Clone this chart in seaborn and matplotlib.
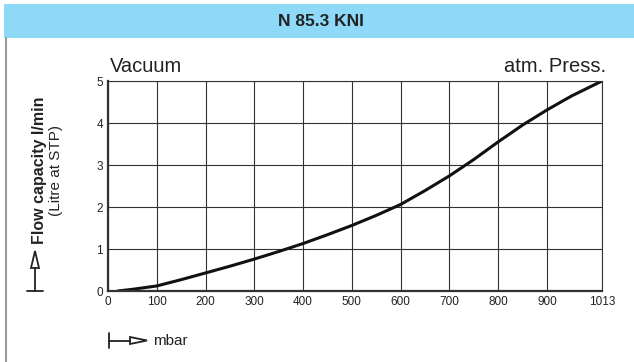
import matplotlib
matplotlib.use('Agg')
import matplotlib.pyplot as plt
import seaborn as sns
import pandas as pd
from matplotlib.patches import Rectangle, Polygon
from matplotlib.lines import Line2D

# Curve: pressure (mbar) vs flow (l/min)
pressure = [20, 50, 100, 150, 200, 250, 300, 350, 400, 450, 500, 550,
            600, 650, 700, 750, 800, 850, 900, 950, 1013]
flow = [0.0, 0.04, 0.12, 0.27, 0.43, 0.59, 0.76, 0.94, 1.13, 1.34, 1.56, 1.80,
        2.06, 2.39, 2.74, 3.13, 3.55, 3.95, 4.31, 4.64, 5.0]
x_ticks = [0, 100, 200, 300, 400, 500, 600, 700, 800, 900, 1013]
y_ticks = [0, 1, 2, 3, 4, 5]

sns.set_style('white')
plt.rcParams['font.family'] = ['Liberation Sans', 'DejaVu Sans']

W, H = 634, 362
fig = plt.figure(figsize=(W / 100, H / 100), dpi=100)


def px(x, y):
    return (x / W, 1 - y / H)


# header band and left frame line
fig.patches.append(Rectangle(px(4, 38), 1, 34 / H, transform=fig.transFigure,
                             facecolor='#8ed8f8', edgecolor='none', zorder=0))
fig.add_artist(Line2D([5.5 / W, 5.5 / W], [0, 1 - 38 / H], color='#9a9a9a', lw=1.5))
fig.text(*px(321, 21), 'N 85.3 KNI', ha='center', va='center', fontsize=12.5,
         fontweight='bold', color='#222')

ax = fig.add_axes([108 / W, 71 / H, 494 / W, 210 / H])
df = pd.DataFrame({'mbar': pressure, 'flow': flow})
sns.lineplot(data=df, x='mbar', y='flow', ax=ax, color='#111', lw=2.2)

ax.set_xlim(0, 1013)
ax.set_ylim(0, 5)
ax.set_xticks(x_ticks)
ax.set_yticks(y_ticks)
ax.set_xlabel('')
ax.set_ylabel('')
ax.grid(True, color='#333', lw=0.8)
for s in ax.spines.values():
    s.set_color('#333')
    s.set_linewidth(0.8)
ax.spines['left'].set_linewidth(1.6)
ax.spines['bottom'].set_linewidth(1.6)
ax.tick_params(direction='inout', length=5, width=0.8, colors='#222', labelsize=8.5, pad=1)

fig.text(*px(110, 66), 'Vacuum', ha='left', va='center', fontsize=14.5, color='#222')
fig.text(*px(606, 66), 'atm. Press.', ha='right', va='center', fontsize=14.5, color='#222')

fig.text(*px(40, 170), 'Flow capacity l/min', rotation=90, ha='center', va='center',
         fontsize=11.5, fontweight='bold', color='#222')
fig.text(*px(56, 170), '(Litre at STP)', rotation=90, ha='center', va='center',
         fontsize=11, color='#222')

# axis arrows (y: up, x: right) with open heads
fig.add_artist(Line2D([27 / W, 43 / W], [1 - 291 / H] * 2, color='#222', lw=1.3))
fig.add_artist(Line2D([35 / W, 35 / W], [1 - 291 / H, 1 - 268 / H], color='#222', lw=1.3))
fig.add_artist(Polygon([px(31, 268), px(39, 268), px(35, 251)], closed=True,
                       transform=fig.transFigure, fc='white', ec='#222', lw=1.3))
fig.add_artist(Line2D([109 / W, 109 / W], [1 - 333 / H, 1 - 348 / H], color='#222', lw=1.3))
fig.add_artist(Line2D([109 / W, 130 / W], [1 - 340.5 / H] * 2, color='#222', lw=1.3))
fig.add_artist(Polygon([px(130, 337), px(130, 344), px(147, 340.5)], closed=True,
                       transform=fig.transFigure, fc='white', ec='#222', lw=1.3))
fig.text(*px(153, 341), 'mbar', ha='left', va='center', fontsize=11, color='#222')

fig.savefig('out.png', dpi=100)
